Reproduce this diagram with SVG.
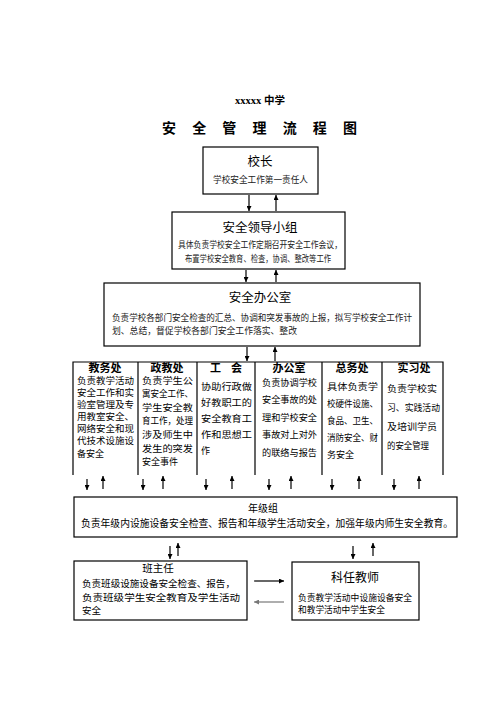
<svg xmlns="http://www.w3.org/2000/svg" width="496" height="702" viewBox="0 0 496 702">
<defs>
<marker id="ah" viewBox="0 0 6 6" refX="6" refY="3" markerWidth="5" markerHeight="5" orient="auto" markerUnits="userSpaceOnUse">
<path d="M0,0 L6,3 L0,6 z" fill="#000"/>
</marker>
<marker id="ahg" viewBox="0 0 6 6" refX="6" refY="3" markerWidth="5" markerHeight="5" orient="auto" markerUnits="userSpaceOnUse">
<path d="M0,0 L6,3 L0,6 z" fill="#777"/>
</marker>
</defs>
<style>
text{font-family:"Noto Sans CJK SC","Noto Sans",sans-serif;fill:#000}
.box{fill:#fff;stroke:#000;stroke-width:1.2}
.ttl{font-size:12.5px;text-anchor:middle}
.sub{font-size:9px;fill:#222}
.ct{font-size:11px;font-weight:bold;text-anchor:middle}
.cb{font-size:9px;fill:#222}
.c{stroke:#000;stroke-width:1.2;fill:none;marker-end:url(#ah)}
.cg{stroke:#777;stroke-width:1.2;fill:none;marker-end:url(#ahg)}
</style>
<rect width="496" height="702" fill="#fff"/>
<g id="title">
<text x="260" y="104" text-anchor="middle" font-size="10.5" font-weight="bold"><tspan font-family="Liberation Serif, serif">xxxxx </tspan>中学</text>
<text x="162" y="133" font-size="14" font-weight="bold" textLength="195" lengthAdjust="spacing">安全管理流程图</text>
</g>
<g id="principal">
<rect class="box" x="203" y="147" width="115" height="47"/>
<text class="ttl" x="260" y="166">校长</text>
<text class="sub" x="213" y="183" textLength="95" lengthAdjust="spacingAndGlyphs">学校安全工作第一责任人</text>
</g>
<g id="leading-group">
<rect class="box" x="172" y="212" width="173" height="57"/>
<text class="ttl" x="260" y="232">安全领导小组</text>
<text class="sub" x="178" y="248" textLength="164" lengthAdjust="spacingAndGlyphs">具体负责学校安全工作定期召开安全工作会议，</text>
<text class="sub" x="185" y="262" textLength="146" lengthAdjust="spacingAndGlyphs">布置学校安全教育、检查，协调、整改等工作</text>
</g>
<g id="safety-office">
<rect class="box" x="104" y="283" width="316" height="63"/>
<text class="ttl" x="260" y="302">安全办公室</text>
<text class="sub" x="112" y="321" textLength="300" lengthAdjust="spacingAndGlyphs">负责学校各部门安全检查的汇总、协调和突发事故的上报，拟写学校安全工作计</text>
<text class="sub" x="112" y="334" textLength="185" lengthAdjust="spacingAndGlyphs">划、总结，督促学校各部门安全工作落实、整改</text>
</g>
<g id="departments">
<path d="M73,475V362H443V475M138,362V475M197,362V475M255,362V475M322,362V475M382,362V475" fill="none" stroke="#000" stroke-width="1.2"/>
</g>
<g id="dept-jiaowu">
<text class="ct" x="105" y="372">教务处</text>
<g class="cb">
<text x="77" y="384" textLength="57" lengthAdjust="spacingAndGlyphs">负责教学活动</text>
<text x="77" y="396" textLength="57" lengthAdjust="spacingAndGlyphs">安全工作和实</text>
<text x="77" y="408" textLength="57" lengthAdjust="spacingAndGlyphs">验室管理及专</text>
<text x="77" y="420" textLength="57" lengthAdjust="spacingAndGlyphs">用教室安全、</text>
<text x="77" y="432" textLength="57" lengthAdjust="spacingAndGlyphs">网络安全和现</text>
<text x="77" y="444" textLength="57" lengthAdjust="spacingAndGlyphs">代技术设施设</text>
<text x="77" y="457">备安全</text>
</g>
</g>
<g id="dept-zhengjiao">
<text class="ct" x="167" y="372">政教处</text>
<g class="cb">
<text x="142" y="384" textLength="51" lengthAdjust="spacingAndGlyphs">负责学生公</text>
<text x="142" y="397" textLength="51" lengthAdjust="spacingAndGlyphs">寓安全工作、</text>
<text x="142" y="411" textLength="51" lengthAdjust="spacingAndGlyphs">学生安全教</text>
<text x="142" y="424" textLength="51" lengthAdjust="spacingAndGlyphs">育工作，处理</text>
<text x="142" y="438" textLength="51" lengthAdjust="spacingAndGlyphs">涉及师生中</text>
<text x="142" y="452" textLength="51" lengthAdjust="spacingAndGlyphs">发生的突发</text>
<text x="142" y="465">安全事件</text>
</g>
</g>
<g id="dept-union">
<text class="ct" x="226" y="372" textLength="32" lengthAdjust="spacing">工  会</text>
<g class="cb">
<text x="201" y="390" textLength="51" lengthAdjust="spacingAndGlyphs">协助行政做</text>
<text x="201" y="406" textLength="51" lengthAdjust="spacingAndGlyphs">好教职工的</text>
<text x="201" y="422" textLength="51" lengthAdjust="spacingAndGlyphs">安全教育工</text>
<text x="201" y="438" textLength="51" lengthAdjust="spacingAndGlyphs">作和思想工</text>
<text x="201" y="454">作</text>
</g>
</g>
<g id="dept-office">
<text class="ct" x="289" y="372">办公室</text>
<g class="cb">
<text x="262" y="386" textLength="55" lengthAdjust="spacingAndGlyphs">负责协调学校</text>
<text x="262" y="403" textLength="55" lengthAdjust="spacingAndGlyphs">安全事故的处</text>
<text x="262" y="421" textLength="55" lengthAdjust="spacingAndGlyphs">理和学校安全</text>
<text x="262" y="438" textLength="55" lengthAdjust="spacingAndGlyphs">事故对上对外</text>
<text x="262" y="456" textLength="55" lengthAdjust="spacingAndGlyphs">的联络与报告</text>
</g>
</g>
<g id="dept-general">
<text class="ct" x="352" y="372">总务处</text>
<g class="cb">
<text x="327" y="390" textLength="51" lengthAdjust="spacingAndGlyphs">具体负责学</text>
<text x="327" y="407" textLength="51" lengthAdjust="spacingAndGlyphs">校硬件设施、</text>
<text x="327" y="424" textLength="51" lengthAdjust="spacingAndGlyphs">食品、卫生、</text>
<text x="327" y="441" textLength="51" lengthAdjust="spacingAndGlyphs">消防安全、财</text>
<text x="327" y="458">务安全</text>
</g>
</g>
<g id="dept-practice">
<text class="ct" x="414" y="372">实习处</text>
<g class="cb">
<text x="387" y="392" textLength="50" lengthAdjust="spacingAndGlyphs">负责学校实</text>
<text x="387" y="411" textLength="53" lengthAdjust="spacingAndGlyphs">习、实践活动</text>
<text x="387" y="430" textLength="50" lengthAdjust="spacingAndGlyphs">及培训学员</text>
<text x="387" y="449" textLength="42" lengthAdjust="spacingAndGlyphs">的安全管理</text>
</g>
</g>
<g id="grade-group">
<rect class="box" x="74" y="497" width="383" height="40"/>
<text x="263" y="512" font-size="10" text-anchor="middle">年级组</text>
<text x="81" y="527" font-size="10" textLength="372" lengthAdjust="spacingAndGlyphs">负责年级内设施设备安全检查、报告和年级学生活动安全，加强年级内师生安全教育。</text>
</g>
<g id="class-teacher">
<rect class="box" x="74" y="561" width="173" height="59"/>
<text x="158" y="572" font-size="10.5" text-anchor="middle">班主任</text>
<text x="82" y="587" font-size="9.5" textLength="153" lengthAdjust="spacingAndGlyphs">负责班级设施设备安全检查、报告，</text>
<text x="82" y="600.5" font-size="9.5" textLength="158" lengthAdjust="spacingAndGlyphs">负责班级学生安全教育及学生活动</text>
<text x="82" y="614" font-size="9.5">安全</text>
</g>
<g id="subject-teacher">
<rect class="box" x="292" y="562" width="127" height="58"/>
<text x="355" y="582" font-size="12" text-anchor="middle">科任教师</text>
<text x="298" y="601" font-size="9" textLength="114" lengthAdjust="spacingAndGlyphs">负责教学活动中设施设备安全</text>
<text x="298" y="613" font-size="9" textLength="87" lengthAdjust="spacingAndGlyphs">和教学活动中学生安全</text>
</g>
<g id="connectors">
<path class="c" d="M249,195V211"/>
<path class="c" d="M276,211V195"/>
<path class="c" d="M246,270V282"/>
<path class="c" d="M276,282V270"/>
<path class="c" d="M247,347V361"/>
<path class="c" d="M275,361V347"/>
<path class="c" d="M87,479V490"/>
<path class="c" d="M103,489V476"/>
<path class="c" d="M143,479V490"/>
<path class="c" d="M163,489V476"/>
<path class="c" d="M206,479V490"/>
<path class="c" d="M232,489V476"/>
<path class="c" d="M269,479V490"/>
<path class="c" d="M291,489V476"/>
<path class="c" d="M332,479V490"/>
<path class="c" d="M359,489V476"/>
<path class="c" d="M394,479V490"/>
<path class="c" d="M419,489V476"/>
<path class="c" d="M170,546V559"/>
<path class="c" d="M178,556V543"/>
<path class="c" d="M353,546V559"/>
<path class="c" d="M373,556V543"/>
<path class="c" d="M254,581H284"/>
<path class="cg" d="M284,602H254"/>
</g>
</svg>
